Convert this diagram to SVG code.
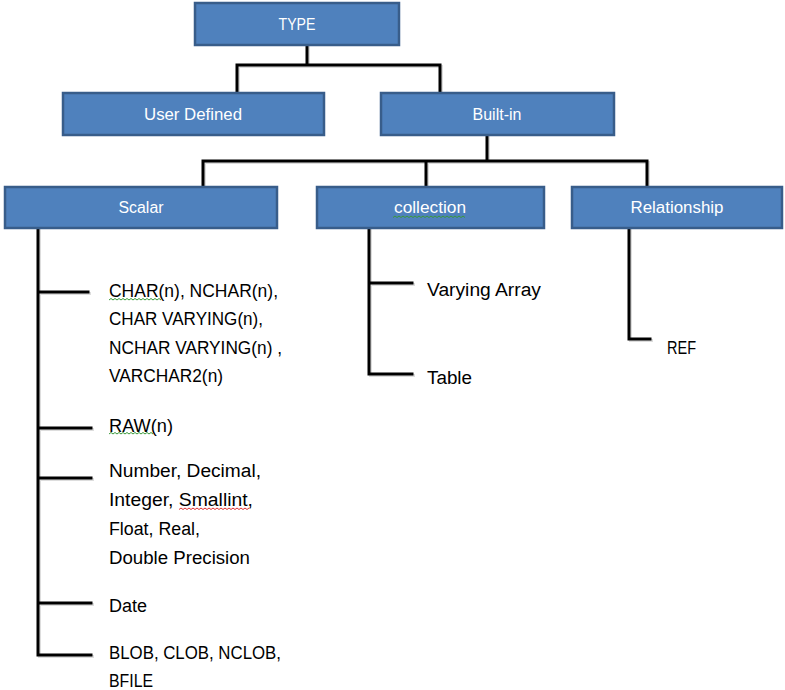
<svg xmlns="http://www.w3.org/2000/svg" width="785" height="690" viewBox="0 0 785 690">
<style>
.box{fill:#4F81BD;stroke:#385D8A;stroke-width:2.5}
.bl{font-family:"Liberation Sans",Arial,sans-serif;font-size:16px;fill:#fff;text-anchor:middle}
.t{font-family:"Liberation Sans",Arial,sans-serif;font-size:18px;fill:#000}
.c{fill:none;stroke:#000;stroke-width:3;stroke-linecap:square}
.cs{fill:none;stroke:#bbb;stroke-width:3;stroke-linecap:square}
.sq{fill:none;stroke-width:1}
</style>
<rect width="785" height="690" fill="#fff"/>
<g id="connectors">
<g transform="translate(1.5,1.5)" opacity="0.5">
<path class="cs" d="M307 45V65M237 65H440M237 65V93M440 65V93"/>
<path class="cs" d="M487 135V161M203 161H647M203 161V187M426 161V187M647 161V187"/>
<path class="cs" d="M38 228V655H91M38 292H88M38 428H91M38 478H91M38 603H91"/>
<path class="cs" d="M369 228V374H412M369 283H412"/>
<path class="cs" d="M629 228V339H650"/>
</g>
<path class="c" d="M307 45V65M237 65H440M237 65V93M440 65V93"/>
<path class="c" d="M487 135V161M203 161H647M203 161V187M426 161V187M647 161V187"/>
<path class="c" d="M38 228V655H91M38 292H88M38 428H91M38 478H91M38 603H91"/>
<path class="c" d="M369 228V374H412M369 283H412"/>
<path class="c" d="M629 228V339H650"/>
</g>
<g id="type"><rect class="box" x="195" y="3" width="204" height="42"/><text class="bl" x="297" y="30" textLength="37" lengthAdjust="spacingAndGlyphs">TYPE</text></g>
<g id="userdefined"><rect class="box" x="63" y="93" width="261" height="42"/><text class="bl" x="193" y="120" textLength="98" lengthAdjust="spacingAndGlyphs">User Defined</text></g>
<g id="builtin"><rect class="box" x="381" y="93" width="233" height="42"/><text class="bl" x="497" y="120">Built-in</text></g>
<g id="scalar"><rect class="box" x="5" y="187" width="272" height="41"/><text class="bl" x="141" y="213" textLength="45" lengthAdjust="spacingAndGlyphs">Scalar</text></g>
<g id="collection"><rect class="box" x="317" y="187" width="227" height="41"/><text class="bl" x="430" y="213" textLength="72" lengthAdjust="spacingAndGlyphs">collection</text>
<path class="sq" stroke="#3a9a3a" d="M393 217.5l2 -1.5l2 1.5l2 -1.5l2 1.5l2 -1.5l2 1.5l2 -1.5l2 1.5l2 -1.5l2 1.5l2 -1.5l2 1.5l2 -1.5l2 1.5l2 -1.5l2 1.5l2 -1.5l2 1.5l2 -1.5l2 1.5l2 -1.5l2 1.5l2 -1.5l2 1.5l2 -1.5l2 1.5l2 -1.5l2 1.5l2 -1.5l2 1.5l2 -1.5l2 1.5l2 -1.5l2 1.5l2 -1.5l2 1.5"/></g>
<g id="relationship"><rect class="box" x="572" y="187" width="210" height="41"/><text class="bl" x="677" y="213" textLength="93" lengthAdjust="spacingAndGlyphs">Relationship</text></g>
<g id="char">
<text class="t" x="109" y="297" textLength="169" lengthAdjust="spacingAndGlyphs">CHAR(n), NCHAR(n),</text>
<text class="t" x="109" y="325" textLength="154" lengthAdjust="spacingAndGlyphs">CHAR VARYING(n),</text>
<text class="t" x="109" y="354" textLength="173" lengthAdjust="spacingAndGlyphs">NCHAR VARYING(n) ,</text>
<text class="t" x="109" y="382" textLength="114" lengthAdjust="spacingAndGlyphs">VARCHAR2(n)</text>
<path class="sq" stroke="#3a9a3a" d="M109 300l2 -1.5l2 1.5l2 -1.5l2 1.5l2 -1.5l2 1.5l2 -1.5l2 1.5l2 -1.5l2 1.5l2 -1.5l2 1.5l2 -1.5l2 1.5l2 -1.5l2 1.5l2 -1.5l2 1.5l2 -1.5l2 1.5l2 -1.5l2 1.5l2 -1.5l2 1.5l2 -1.5l2 1.5"/>
</g>
<g id="raw">
<text class="t" x="109" y="432" textLength="64" lengthAdjust="spacingAndGlyphs">RAW(n)</text>
<path class="sq" stroke="#3a9a3a" d="M109 434l2 -1.5l2 1.5l2 -1.5l2 1.5l2 -1.5l2 1.5l2 -1.5l2 1.5l2 -1.5l2 1.5l2 -1.5l2 1.5l2 -1.5l2 1.5l2 -1.5l2 1.5l2 -1.5l2 1.5l2 -1.5l2 1.5l2 -1.5l2 1.5"/>
</g>
<g id="number">
<text class="t" x="109" y="477" textLength="152" lengthAdjust="spacingAndGlyphs">Number, Decimal,</text>
<text class="t" x="109" y="506" textLength="144" lengthAdjust="spacingAndGlyphs">Integer, Smallint,</text>
<text class="t" x="109" y="535" textLength="91" lengthAdjust="spacingAndGlyphs">Float, Real,</text>
<text class="t" x="109" y="564" textLength="141" lengthAdjust="spacingAndGlyphs">Double Precision</text>
<path class="sq" stroke="#e03030" d="M179 509.5l2 -1.5l2 1.5l2 -1.5l2 1.5l2 -1.5l2 1.5l2 -1.5l2 1.5l2 -1.5l2 1.5l2 -1.5l2 1.5l2 -1.5l2 1.5l2 -1.5l2 1.5l2 -1.5l2 1.5l2 -1.5l2 1.5l2 -1.5l2 1.5l2 -1.5l2 1.5l2 -1.5l2 1.5l2 -1.5l2 1.5l2 -1.5l2 1.5l2 -1.5l2 1.5l2 -1.5l2 1.5l2 -1.5"/>
</g>
<g id="date"><text class="t" x="109" y="612" textLength="38" lengthAdjust="spacingAndGlyphs">Date</text></g>
<g id="lob">
<text class="t" x="109" y="659" textLength="172" lengthAdjust="spacingAndGlyphs">BLOB, CLOB, NCLOB,</text>
<text class="t" x="109" y="687" textLength="44" lengthAdjust="spacingAndGlyphs">BFILE</text>
</g>
<g id="varyingarray"><text class="t" x="427" y="296" textLength="114" lengthAdjust="spacingAndGlyphs">Varying Array</text></g>
<g id="table"><text class="t" x="427" y="384" textLength="45" lengthAdjust="spacingAndGlyphs">Table</text></g>
<g id="ref"><text class="t" x="667" y="354" textLength="29" lengthAdjust="spacingAndGlyphs">REF</text></g>
</svg>
